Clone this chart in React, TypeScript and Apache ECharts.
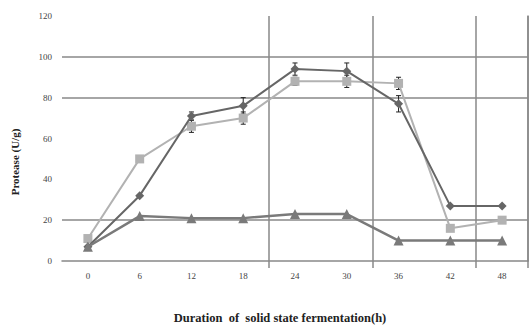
import React, { useEffect, useRef } from "react";
import * as echarts from "echarts";

const categories = ["0", "6", "12", "18", "24", "30", "36", "42", "48"];
const yTicks = [0, 20, 40, 60, 80, 100, 120];
const seriesDark = [7, 32, 71, 76, 94, 93, 77, 27, 27];
const seriesLight = [11, 50, 66, 70, 88, 88, 87, 16, 20];
const seriesTri = [7, 22, 21, 21, 23, 23, 10, 10, 10];
const errDark = [0, 0, 2, 4, 3, 4, 4, 0, 0];
const errLight = [0, 0, 3, 3, 2, 3, 3, 0, 0];
const hLines = [20, 80, 100];
const vLineIdx = [4, 6, 8];

export default function App() {
  const ref = useRef<HTMLDivElement>(null);
  useEffect(() => {
    if (!ref.current) return;
    const chart = echarts.init(ref.current, null, { renderer: "svg" });
    const errData = (vals: number[], errs: number[]) =>
      vals.map((v, i) => [i, v - errs[i], v + errs[i]]).filter((d, i) => errs[i] > 0);
    const renderErr = (params: any, api: any) => {
      const x = api.value(0);
      const lo = api.coord([x, api.value(1)]);
      const hi = api.coord([x, api.value(2)]);
      const w = 2.5;
      const st = { stroke: "#222", lineWidth: 1 };
      return {
        type: "group",
        children: [
          { type: "line", shape: { x1: lo[0], y1: lo[1], x2: hi[0], y2: hi[1] }, style: st },
          { type: "line", shape: { x1: lo[0] - w, y1: lo[1], x2: lo[0] + w, y2: lo[1] }, style: st },
          { type: "line", shape: { x1: hi[0] - w, y1: hi[1], x2: hi[0] + w, y2: hi[1] }, style: st },
        ],
      };
    };
    const font = "'Liberation Serif', 'Times New Roman', serif";
    chart.setOption({
      animation: false,
      grid: { left: 62, right: 2, top: 16, bottom: 68 },
      xAxis: {
        type: "category",
        data: categories,
        boundaryGap: true,
        axisLine: { show: true, lineStyle: { color: "#888", width: 1.5 } },
        axisTick: {
          show: true,
          length: 7,
          interval: (i: number) => vLineIdx.includes(i),
          lineStyle: { color: "#888", width: 1.5 },
        },
        axisLabel: { color: "#444", fontSize: 9, fontFamily: font, margin: 10 },
        splitLine: {
          show: true,
          interval: (i: number) => vLineIdx.includes(i),
          lineStyle: { color: "#888", width: 1.5 },
        },
      },
      yAxis: [
        {
          type: "value",
          min: 0,
          max: 120,
          interval: 20,
          axisLine: { show: false },
          axisTick: { show: false },
          splitLine: { show: false },
          axisLabel: {
            color: "#444",
            fontSize: 9,
            fontFamily: font,
            margin: 10,
            formatter: (v: number) => (yTicks.includes(v) ? String(v) : ""),
          },
        },
        {
          type: "value",
          min: 0,
          max: 120,
          position: "right",
          axisLine: { show: true, lineStyle: { color: "#888", width: 1.5 } },
          axisTick: { show: false },
          axisLabel: { show: false },
          splitLine: { show: false },
        },
      ],
      graphic: [
        {
          type: "text",
          x: 15,
          y: 162,
          rotation: Math.PI / 2,
          style: {
            text: "Protease (U/g)",
            font: "bold 11px " + font,
            fill: "#222",
            align: "center",
            verticalAlign: "middle",
          },
        },
        {
          type: "text",
          x: 280,
          y: 318,
          style: {
            text: "Duration  of  solid state fermentation(h)",
            font: "bold 12.5px " + font,
            fill: "#222",
            align: "center",
            verticalAlign: "middle",
          },
        },
      ],
      series: [
        {
          type: "line",
          data: seriesLight,
          symbol: "rect",
          symbolSize: 9,
          lineStyle: { color: "#b2b2b2", width: 2 },
          itemStyle: { color: "#b2b2b2" },
          z: 3,
          markLine: {
            silent: true,
            symbol: "none",
            label: { show: false },
            lineStyle: { color: "#888", width: 1.5, type: "solid" },
            data: hLines.map((v) => ({ yAxis: v })),
            z: 1,
          },
        },
        {
          type: "line",
          data: seriesDark,
          symbol: "diamond",
          symbolSize: 9,
          lineStyle: { color: "#666", width: 2 },
          itemStyle: { color: "#666" },
          z: 4,
        },
        {
          type: "line",
          data: seriesTri,
          symbol: "triangle",
          symbolSize: 10,
          lineStyle: { color: "#7a7a7a", width: 2.5 },
          itemStyle: { color: "#7a7a7a" },
          z: 5,
        },
        { type: "custom", data: errData(seriesDark, errDark), renderItem: renderErr, z: 2 },
        { type: "custom", data: errData(seriesLight, errLight), renderItem: renderErr, z: 2 },
      ],
    });
    return () => chart.dispose();
  }, []);
  return (
    <div
      ref={ref}
      style={{ position: "fixed", left: 0, top: 0, width: 530, height: 329, background: "#fff" }}
    />
  );
}
